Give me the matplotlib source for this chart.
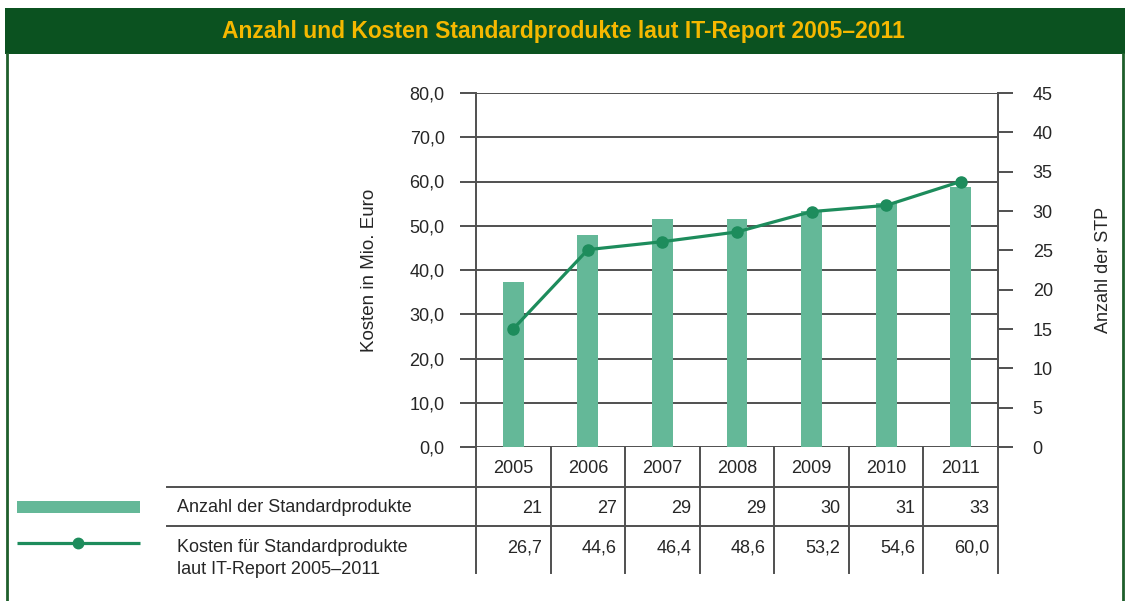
import matplotlib
matplotlib.use("Agg")
import matplotlib.pyplot as plt
import matplotlib.transforms as mtransforms
from matplotlib.patches import Rectangle

plt.rcParams["font.family"] = ["Liberation Sans", "DejaVu Sans"]

# data
years = ["2005", "2006", "2007", "2008", "2009", "2010", "2011"]
anzahl = [21, 27, 29, 29, 30, 31, 33]
kosten = [26.7, 44.6, 46.4, 48.6, 53.2, 54.6, 60.0]
title = "Anzahl und Kosten Standardprodukte laut IT-Report 2005\u20132011"
label_anzahl = "Anzahl der Standardprodukte"
label_kosten = ["Kosten f\u00fcr Standardprodukte", "laut IT-Report 2005\u20132011"]

BAR_COLOR = "#64b898"
LINE_COLOR = "#1d8c5c"
GRID_COLOR = "#505050"
FRAME_GREEN = "#0b5220"
TITLE_COLOR = "#f5b800"
TEXT_COLOR = "#262626"
FS = 13
LW = 1.4

W, H = 1125, 601
fig = plt.figure(figsize=(W / 100, H / 100), dpi=100)

# overlay in pixel coordinates for frame, title and table labels
over = fig.add_axes([0, 0, 1, 1], zorder=0)
over.set_xlim(0, W)
over.set_ylim(H, 0)
over.axis("off")
over.add_patch(Rectangle((5, 8), W - 5, 46, color=FRAME_GREEN, lw=0))
over.plot([6.5, 6.5], [54, H], color="#1f5f2c", lw=2)
over.plot([1122.5, 1122.5], [54, H], color="#1f5f2c", lw=2)
over.text(563, 31.5, title, color=TITLE_COLOR, fontsize=16.5, fontweight="bold",
          ha="center", va="center",
          family=["Liberation Sans Narrow", "Liberation Sans", "DejaVu Sans"])

# legend keys
over.add_patch(Rectangle((17, 501), 123, 12, color=BAR_COLOR, lw=0))
over.plot([17, 140], [543, 543], color=LINE_COLOR, lw=2.3, solid_capstyle="butt")
over.plot([78], [543], "o", color=LINE_COLOR, ms=7.5)

# row labels and table rules
over.text(177, 506, label_anzahl, fontsize=FS, color=TEXT_COLOR, va="center_baseline")
over.text(177, 546, label_kosten[0], fontsize=FS, color=TEXT_COLOR, va="center_baseline")
over.text(177, 567, label_kosten[1], fontsize=FS, color=TEXT_COLOR, va="center_baseline")
for yy in (487, 526):
    over.plot([167, 998], [yy, yy], color=GRID_COLOR, lw=LW)

# main axes
left, right = 476 / W, 998 / W
bottom, top = (H - 447) / H, (H - 93) / H
ax = fig.add_axes([left, bottom, right - left, top - bottom], zorder=2)
x = list(range(len(years)))
ax.set_xlim(-0.5, len(years) - 0.5)
ax.set_ylim(0, 80)
ax.set_yticks(range(0, 81, 10))
ax.set_yticklabels([f"{v:.1f}".replace(".", ",") for v in range(0, 81, 10)])
ax.set_xticks([])
ax.grid(axis="y", color=GRID_COLOR, lw=LW)
ax.set_axisbelow(True)
for s in ("top", "bottom"):
    ax.spines[s].set_visible(False)
for s in ("left", "right"):
    ax.spines[s].set_color(GRID_COLOR)
    ax.spines[s].set_linewidth(LW)
ax.tick_params(axis="y", direction="out", length=11.5, width=LW, color=GRID_COLOR,
               labelsize=FS, labelcolor=TEXT_COLOR, pad=11)
ax.set_ylabel("Kosten in Mio. Euro", fontsize=13.5, color=TEXT_COLOR)
ax.yaxis.set_label_coords(-0.187, 0.5)

# bars on right scale
ax2 = ax.twinx()
ax2.set_ylim(0, 45)
ax2.set_yticks(range(0, 46, 5))
ax2.bar(x, anzahl, width=0.28, color=BAR_COLOR, zorder=2)
for s in ("top", "bottom", "left"):
    ax2.spines[s].set_visible(False)
ax2.spines["right"].set_color(GRID_COLOR)
ax2.spines["right"].set_linewidth(LW)
ax2.tick_params(axis="y", direction="out", length=11, width=LW, color=GRID_COLOR,
                labelsize=FS, labelcolor=TEXT_COLOR, pad=14)
ax2.set_ylabel("Anzahl der STP", fontsize=13, color=TEXT_COLOR, rotation=90)
ax2.yaxis.set_label_coords(1.186, 0.5)

# line on left scale, drawn above the bars
ax3 = ax.twinx()
ax3.set_ylim(0, 80)
ax3.axis("off")
ax3.plot(x, kosten, color=LINE_COLOR, lw=2.3, marker="o", ms=8, clip_on=False)

# table below the plot
tr = mtransforms.blended_transform_factory(ax.transData, ax.transAxes)
for i in range(len(years) + 1):
    ax.plot([i - 0.5, i - 0.5], [0, -0.356], transform=tr, color=GRID_COLOR,
            lw=LW, clip_on=False)
for i, yr in enumerate(years):
    ax.text(i, -0.0537, yr, transform=tr, ha="center", va="center_baseline",
            fontsize=FS, color=TEXT_COLOR)
    ax.text(i + 0.39, -0.1667, str(anzahl[i]), transform=tr, ha="right",
            va="center_baseline", fontsize=FS, color=TEXT_COLOR)
    ax.text(i + 0.39, -0.2797, f"{kosten[i]:.1f}".replace(".", ","), transform=tr,
            ha="right", va="center_baseline", fontsize=FS, color=TEXT_COLOR)

fig.savefig("out.png", dpi=100)
